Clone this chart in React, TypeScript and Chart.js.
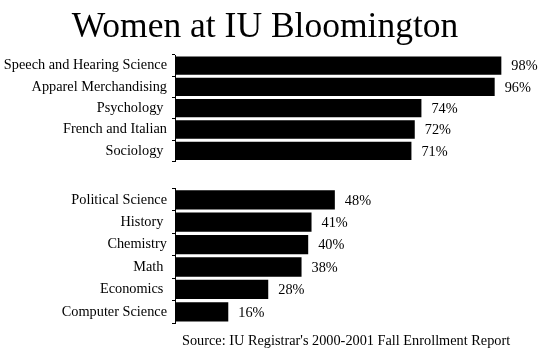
import React, { useEffect, useRef } from "react";
import { Chart, registerables } from "chart.js";

Chart.register(...registerables);

const FONT = "'Liberation Serif', 'Times New Roman', Times, serif";
const SMALL = 14.3;

const titleText = "Women at IU Bloomington";
const sourceText = "Source: IU Registrar's 2000-2001 Fall Enrollment Report";

const topCategories = [
  "Speech and Hearing Science",
  "Apparel Merchandising",
  "Psychology ",
  "French and Italian",
  "Sociology ",
];
const topValues = [98, 96, 74, 72, 71];

const bottomCategories = [
  "Political Science",
  "History ",
  "Chemistry",
  "Math ",
  "Economics ",
  "Computer Science",
];
const bottomValues = [48, 41, 40, 38, 28, 16];

const xMin = 0;
const xMax = 100;

const valueLabels = {
  id: "valueLabels",
  afterDatasetsDraw(chart: any) {
    const ctx = chart.ctx;
    const meta = chart.getDatasetMeta(0);
    const data = chart.data.datasets[0].data as number[];
    ctx.save();
    ctx.font = `${SMALL}px ${FONT}`;
    ctx.fillStyle = "#000";
    ctx.textAlign = "left";
    ctx.textBaseline = "middle";
    meta.data.forEach((bar: any, i: number) => {
      ctx.fillText(`${data[i]}%`, bar.x + 10, bar.y + 1);
    });
    ctx.restore();
  },
};

function makeConfig(labels: string[], values: number[], padTop: number, padBottom: number): any {
  return {
    type: "bar",
    data: {
      labels,
      datasets: [
        {
          data: values,
          backgroundColor: "#000",
          borderWidth: 0,
          barPercentage: 0.86,
          categoryPercentage: 1,
        },
      ],
    },
    options: {
      indexAxis: "y",
      responsive: false,
      animation: false,
      layout: { padding: { top: padTop, bottom: padBottom, left: 0, right: 32 } },
      plugins: {
        legend: { display: false },
        tooltip: { enabled: false },
        title: { display: false },
      },
      scales: {
        x: { display: false, min: xMin, max: xMax },
        y: {
          afterFit(scale: any) {
            scale.width = 175;
          },
          grid: {
            display: true,
            drawOnChartArea: false,
            drawTicks: true,
            tickLength: 3,
            color: "#000",
            lineWidth: 1,
            offset: true,
          },
          border: { display: true, color: "#000", width: 1 },
          ticks: {
            color: "#000",
            padding: 5,
            autoSkip: false,
            font: { family: FONT, size: SMALL },
          },
        },
      },
    },
    plugins: [valueLabels],
  };
}

export default function App() {
  const topRef = useRef<HTMLCanvasElement>(null);
  const bottomRef = useRef<HTMLCanvasElement>(null);

  useEffect(() => {
    const c1 = new Chart(topRef.current!, makeConfig(topCategories, topValues, 55, 5));
    const c2 = new Chart(bottomRef.current!, makeConfig(bottomCategories, bottomValues, 11, 32));
    return () => {
      c1.destroy();
      c2.destroy();
    };
  }, []);

  return (
    <div
      style={{
        position: "fixed",
        left: 0,
        top: 0,
        width: 540,
        height: 355,
        background: "#fff",
        overflow: "hidden",
      }}
    >
      <canvas ref={topRef} width={540} height={175} style={{ position: "absolute", left: 0, top: 0 }} />
      <canvas ref={bottomRef} width={540} height={180} style={{ position: "absolute", left: 0, top: 175 }} />
      <div
        style={{
          position: "absolute",
          left: 0,
          top: 8,
          width: 530,
          textAlign: "center",
          font: `35.5px/35px ${FONT}`,
          color: "#000",
          whiteSpace: "nowrap",
        }}
      >
        {titleText}
      </div>
      <div
        style={{
          position: "absolute",
          left: 182,
          top: 333,
          font: `${SMALL}px/14px ${FONT}`,
          color: "#000",
          whiteSpace: "nowrap",
        }}
      >
        {sourceText}
      </div>
    </div>
  );
}
